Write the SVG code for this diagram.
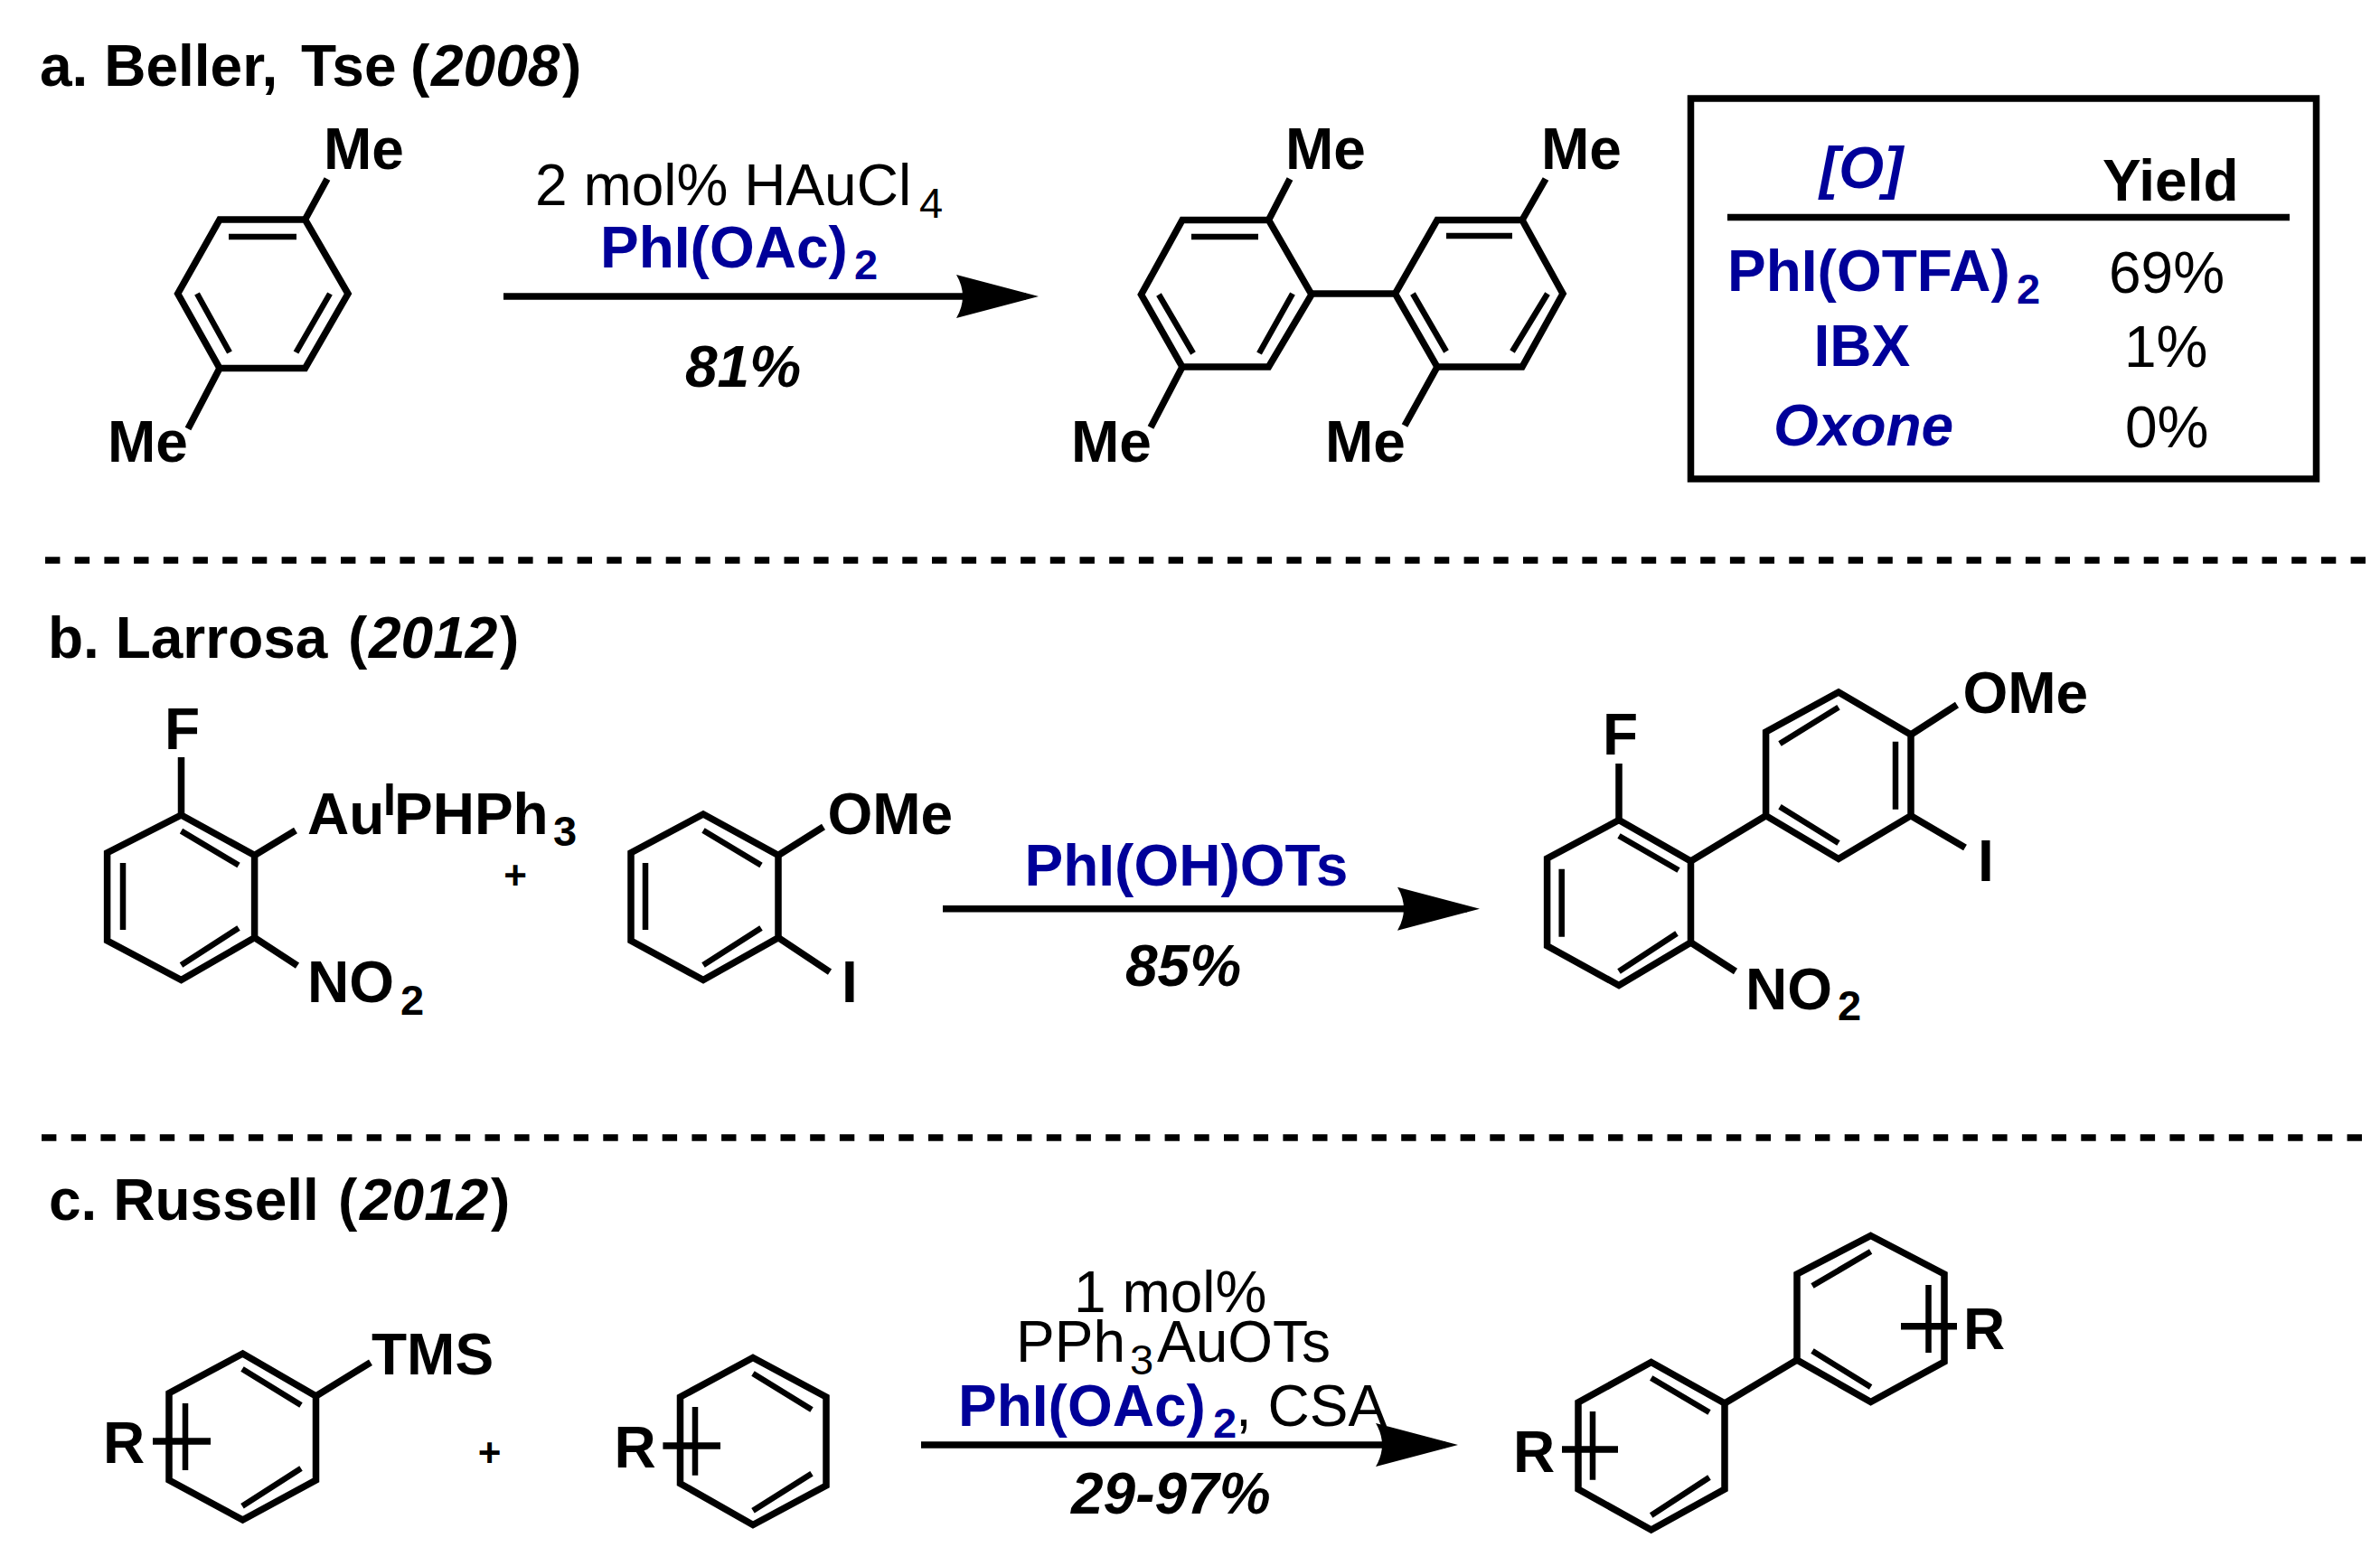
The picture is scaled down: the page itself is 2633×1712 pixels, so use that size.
<svg xmlns="http://www.w3.org/2000/svg" width="2633" height="1712" viewBox="0 0 2633 1712">
<style>
text{font-family:"Liberation Sans",Arial,sans-serif;font-size:64px;fill:#000}
.b{font-weight:700}
.i{font-style:italic}
.blue{fill:#000099}
.s{font-size:47px}
.p{font-size:44px;font-weight:700;text-anchor:middle}
.bond{fill:none;stroke:#000;stroke-width:7.5;stroke-linejoin:miter;stroke-linecap:butt}
.in{fill:none;stroke:#000;stroke-width:6.500}
.rule{stroke:#000;stroke-width:7.5;fill:none}
.dash{stroke:#000;stroke-width:7.5;stroke-dasharray:16.4 16.3}
.arrow{stroke:#000;stroke-width:7.5;fill:none;marker-end:url(#head)}
</style>
<defs>
<marker id="head" markerUnits="userSpaceOnUse" markerWidth="92" markerHeight="50" refX="77" refY="25" orient="auto" viewBox="0 0 92 50">
<path d="M0 1 L91 25 L0 49 Q14 25 0 1 Z" fill="#000"/>
</marker>
</defs>
<rect width="2633" height="1712" fill="#fff"/>

<g id="connectors">
<line class="arrow" x1="557" y1="328" x2="1135" y2="328"/>
<line class="arrow" x1="1043" y1="1005.700" x2="1623" y2="1005.700"/>
<line class="arrow" x1="1019" y1="1599" x2="1599" y2="1599"/>
</g>

<g id="separators">
<line class="dash" x1="50" y1="620" x2="2620" y2="620"/>
<line class="dash" x1="46" y1="1259" x2="2616" y2="1259"/>
</g>

<g id="title-a"><text class="b" x="44" y="95">a. Beller, <tspan x="333">Tse</tspan><tspan x="454">(</tspan><tspan class="i" x="477">2008</tspan><tspan x="622">)</tspan></text></g>
<g id="title-b"><text class="b" x="53" y="728">b. Larrosa <tspan x="385">(</tspan><tspan class="i" x="408">2012</tspan><tspan x="553">)</tspan></text></g>
<g id="title-c"><text class="b" x="54" y="1350">c. Russell <tspan x="374">(</tspan><tspan class="i" x="398">2012</tspan><tspan x="543">)</tspan></text></g>

<g id="a-reactant">
<path class="bond" d="M337.500 243H243L196.700 325L243 407.500H337.500L385 325Z"/>
<path class="bond" d="M337.500 243L362 198M243 407.500L208 474.500"/>
<path class="in" d="M253 262H328M218 325L254 390M365 325L327.500 390"/>
<text class="b" x="358" y="187">Me</text>
<text class="b" x="119" y="511">Me</text>
</g>

<g id="a-conditions">
<text x="592" y="226.500">2 mol% HAuCl<tspan class="s" x="1017" y="240.500">4</tspan></text>
<text class="b blue" x="664" y="296">PhI(OAc)<tspan class="s" x="945" y="309">2</tspan></text>
<text class="b i" x="758" y="427.500">81%</text>
</g>

<g id="a-product">
<path class="bond" d="M1403.500 243.500H1308L1262.500 326L1308 406H1403.500L1451 326Z"/>
<path class="bond" d="M1684 243.500H1590L1543.500 325L1590 406H1684L1729 325Z"/>
<path class="bond" d="M1451 325H1543.500M1403.500 243.500L1427 198M1684 243.500L1710 198M1308 406L1273 473M1590 406L1554 471"/>
<path class="in" d="M1318 262H1392M1282 326L1320 391M1430 325L1393 391M1600 261H1673M1563 325L1600 389M1712 325L1673 389"/>
<text class="b" x="1422" y="187">Me</text>
<text class="b" x="1705" y="187">Me</text>
<text class="b" x="1185" y="511">Me</text>
<text class="b" x="1466" y="511">Me</text>
</g>

<g id="a-table">
<rect class="rule" x="1870.500" y="109" width="692" height="421"/>
<line class="rule" x1="1911" y1="240.500" x2="2533" y2="240.500"/>
<text class="b i blue" x="2013" y="208">[O]</text>
<text class="b" x="2326" y="221.500">Yield</text>
<text class="b blue" x="1911" y="322">PhI(OTFA)<tspan class="s" x="2231" y="335.500">2</tspan></text>
<text x="2333" y="324">69%</text>
<text class="b blue" x="2006.500" y="404.500">IBX</text>
<text x="2350" y="406">1%</text>
<text class="b i blue" x="1962" y="493">Oxone</text>
<text x="2351" y="495">0%</text>
</g>

<g id="b-reactant-1">
<path class="bond" d="M200.500 902L281.600 946.500V1037.700L200.500 1084.500L118.600 1041V943.700Z"/>
<path class="bond" d="M200.500 902V838M281.600 946.500L327 919M281.600 1037.700L329 1068.700"/>
<path class="in" d="M200.500 919.600L264 957.500M136 955V1029M200.500 1068L264 1027"/>
<text class="b" x="182" y="829">F</text>
<text class="b" x="340" y="923">Au<tspan style="font-size:50px" x="424" y="902">I</tspan><tspan x="436" y="923">PHPh</tspan><tspan class="s" x="612" y="935.500">3</tspan></text>
<text class="b" x="340" y="1109">NO<tspan class="s" x="443" y="1122.800">2</tspan></text>
</g>

<text class="p" id="b-plus" x="570" y="984">+</text>

<g id="b-reactant-2">
<path class="bond" d="M778 901L861 946.500V1037.700L778 1084.500L698 1041V943.700Z"/>
<path class="bond" d="M861 946.500L911 915M861 1037.700L918 1075.600"/>
<path class="in" d="M778 919L842 957.500M714 955V1029M778 1068L842 1027"/>
<text class="b" x="915.500" y="923">OMe</text>
<text class="b" x="931" y="1109">I</text>
</g>

<g id="b-conditions">
<text class="b blue" x="1133.500" y="980">PhI(OH)OTs</text>
<text class="b i" x="1245" y="1091">85%</text>
</g>

<g id="b-product">
<path class="bond" d="M1791 907.500L1870.500 953V1043L1791 1090.500L1711.600 1046.700V950Z"/>
<path class="bond" d="M2034 766L2114 813V902.700L2034 950.500L1953.600 902.700V810Z"/>
<path class="bond" d="M1791 907.500V845M1870.500 953L1953.600 902.700M2114 813L2165 780M2114 902.700L2174 938M1870.500 1043L1920 1075"/>
<path class="in" d="M1791 925L1857 963M1727.700 961.700V1036.700M1791 1075L1855 1033M2034 782.700L1969 823M2097 820.700V895.700M1969 892.700L2034 933"/>
<text class="b" x="1773" y="835">F</text>
<text class="b" x="2171.500" y="789">OMe</text>
<text class="b" x="2188" y="975">I</text>
<text class="b" x="1931" y="1116.700">NO<tspan class="s" x="2033" y="1129">2</tspan></text>
</g>

<g id="c-reactant-1">
<path class="bond" d="M268.500 1498L349.500 1545V1638L268.500 1682L187 1638V1541.700Z"/>
<path class="bond" d="M349.500 1545L410 1507.700M169 1595H233"/>
<path class="in" d="M268 1515L333 1555M268 1666.700L333 1625M205 1553V1627"/>
<text class="b" x="411" y="1521">TMS</text>
<text class="b" x="114" y="1619">R</text>
</g>

<text class="p" id="c-plus" x="541.500" y="1623">+</text>

<g id="c-reactant-2">
<path class="bond" d="M833 1502.500L914 1546V1644L833 1687.500L752.500 1641.700V1546Z"/>
<path class="bond" d="M733.400 1600H797"/>
<path class="in" d="M833 1520L898 1560M833 1671.700L898 1630.700M769 1557V1632.700"/>
<text class="b" x="679.500" y="1624">R</text>
</g>

<g id="c-conditions">
<text x="1188" y="1451.500">1 mol%</text>
<text x="1124" y="1507">PPh<tspan class="s" x="1250" y="1521">3</tspan><tspan x="1280" y="1507">AuOTs</tspan></text>
<text class="b blue" x="1060" y="1578">PhI(OAc)<tspan class="s" x="1342" y="1591">2</tspan></text>
<text x="1367" y="1578">, CSA</text>
<text class="b i" x="1185" y="1674.500">29-97%</text>
</g>

<g id="c-product">
<path class="bond" d="M1826.700 1507.500L1908 1553V1648L1826.700 1693L1746 1648V1552Z"/>
<path class="bond" d="M2069.600 1367.500L2151 1410V1507L2069.600 1551.500L1988 1505V1410Z"/>
<path class="bond" d="M1908 1553L1988 1505M1728 1604H1790M2103 1467.700H2165"/>
<path class="in" d="M1826.700 1525L1891 1563M1826.700 1677L1891 1635M2069.600 1385L2005 1423M2005 1495L2069.600 1535M1762 1562V1637.700M2133.500 1422V1497"/>
<text class="b" x="1674" y="1629">R</text>
<text class="b" x="2172" y="1493">R</text>
</g>
</svg>
